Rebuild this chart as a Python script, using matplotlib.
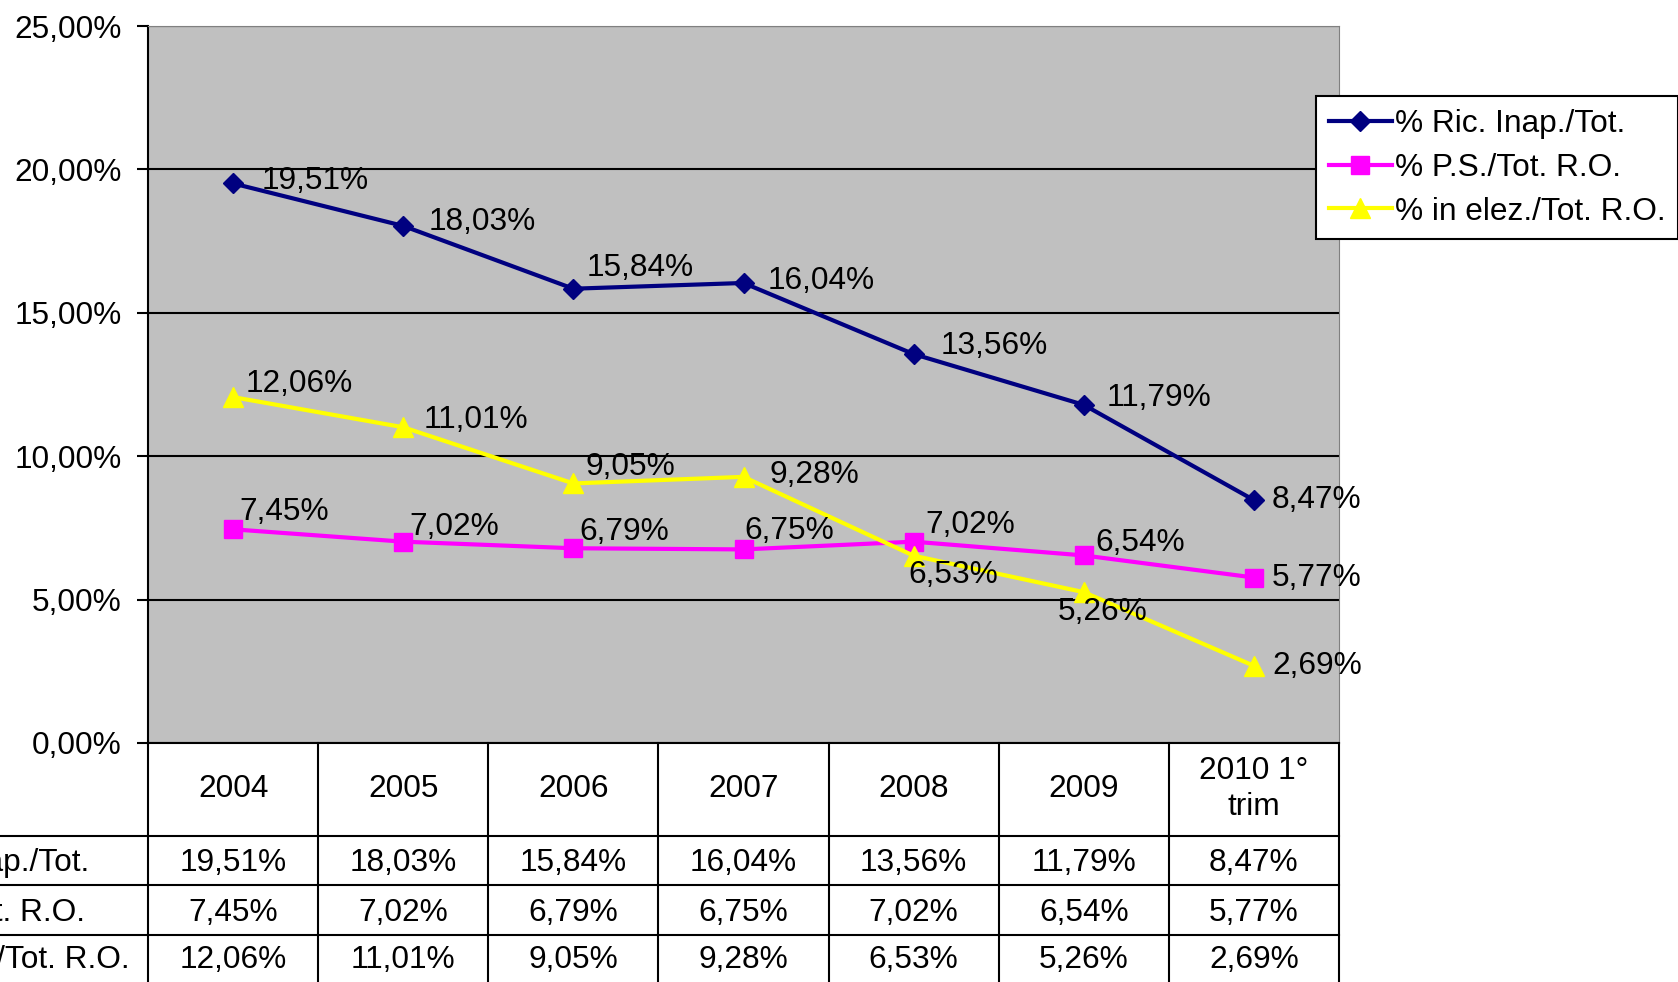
import matplotlib
matplotlib.use("Agg")
import matplotlib.pyplot as plt
from matplotlib.ticker import FuncFormatter, MultipleLocator
from matplotlib.transforms import blended_transform_factory

plt.rcParams['font.family'] = ['Liberation Sans', 'DejaVu Sans']

# dati
anni = ['2004', '2005', '2006', '2007', '2008', '2009', '2010 1°\ntrim']
serie = ['% Ric. Inap./Tot.', '% P.S./Tot. R.O.', '% in elez./Tot. R.O.']
ric_inap = [19.51, 18.03, 15.84, 16.04, 13.56, 11.79, 8.47]
ps_tot = [7.45, 7.02, 6.79, 6.75, 7.02, 6.54, 5.77]
elez_tot = [12.06, 11.01, 9.05, 9.28, 6.53, 5.26, 2.69]
valori = [ric_inap, ps_tot, elez_tot]

# stile
colori = ['#000080', '#ff00ff', '#ffff00']
marker = ['D', 's', '^']
msize = [10, 13, 15]
fs = 22.8
# spostamento delle etichette (pixel dell'immagine ridotta)
offs = [
    [(27, 2), (24, 4), (12, 19), (23, 2), (25, 8), (21, 6), (17, 0)],
    [(6, 16), (6, 14), (6, 15), (1, 17), (11, 16), (11, 12), (17, 0)],
    [(12, 12), (19, 7), (11, 15), (24, 2), (-5, -18), (-24, -19), (17, 0)],
]
k = 1678 / 1568

def fmt(v):
    return f"{v:.2f}%".replace('.', ',')

W, H = 1678, 982
fig = plt.figure(figsize=(W / 100, H / 100), dpi=100)
ax = fig.add_axes([148 / W, 1 - 743 / H, 1191 / W, 717 / H])
ax.set_facecolor('#c0c0c0')

x = [i + 0.5 for i in range(len(anni))]
for j in range(3):
    ax.plot(x, valori[j], color=colori[j], lw=3, marker=marker[j],
            ms=msize[j], mec=colori[j], label=serie[j], zorder=3)
    for i, v in enumerate(valori[j]):
        dx, dy = offs[j][i]
        ax.annotate(fmt(v), (x[i], v), xytext=(dx * k, dy * k),
                    textcoords='offset pixels', ha='left', va='center',
                    fontsize=fs, color='black', zorder=4, annotation_clip=False)

ax.set_xlim(0, 7)
ax.set_ylim(0, 25)
ax.yaxis.set_major_locator(MultipleLocator(5))
ax.yaxis.set_major_formatter(FuncFormatter(lambda v, p: fmt(v)))
ax.grid(axis='y', color='black', lw=1.5, zorder=1)
ax.set_axisbelow(True)
ax.tick_params(axis='y', labelsize=fs, length=8, width=1.5, pad=11, direction='out')
ax.tick_params(axis='x', bottom=False, labelbottom=False)
ax.spines['left'].set_linewidth(1.5)
ax.spines['bottom'].set_linewidth(1.5)
ax.spines['top'].set_color('#808080')
ax.spines['right'].set_color('#808080')

# tabella dati sotto il grafico
tr = blended_transform_factory(ax.transData, ax.transAxes)
righe = [0, -93 / 717, -142 / 717, -192 / 717, -242 / 717]
centri = [-0.064, -0.168, -0.237, -0.303]
for yb in righe[1:]:
    ax.plot([-3, 7], [yb, yb], color='black', lw=1.5, transform=tr, clip_on=False)
for xv in range(8):
    ax.plot([xv, xv], [0, righe[-1]], color='black', lw=1.5, transform=tr, clip_on=False)
for i, a in enumerate(anni):
    ax.text(x[i], centri[0], a, ha='center', va='center', fontsize=fs,
            linespacing=1.25, transform=tr)
for j in range(3):
    ax.text(-1.70, centri[j + 1], serie[j], ha='left', va='center', fontsize=fs,
            transform=tr, clip_on=False)
    for i, v in enumerate(valori[j]):
        ax.text(x[i], centri[j + 1], fmt(v), ha='center', va='center',
                fontsize=fs, transform=tr)

leg = fig.legend(loc='upper left', bbox_to_anchor=(1316 / W, 1 - 96 / H),
                 fontsize=fs, frameon=True, fancybox=False, framealpha=1,
                 edgecolor='black', borderaxespad=0, borderpad=0.4,
                 handlelength=2.0, handletextpad=0.1, labelspacing=0.44)
leg.get_frame().set_linewidth(1.5)

fig.savefig('out.png', dpi=100)
